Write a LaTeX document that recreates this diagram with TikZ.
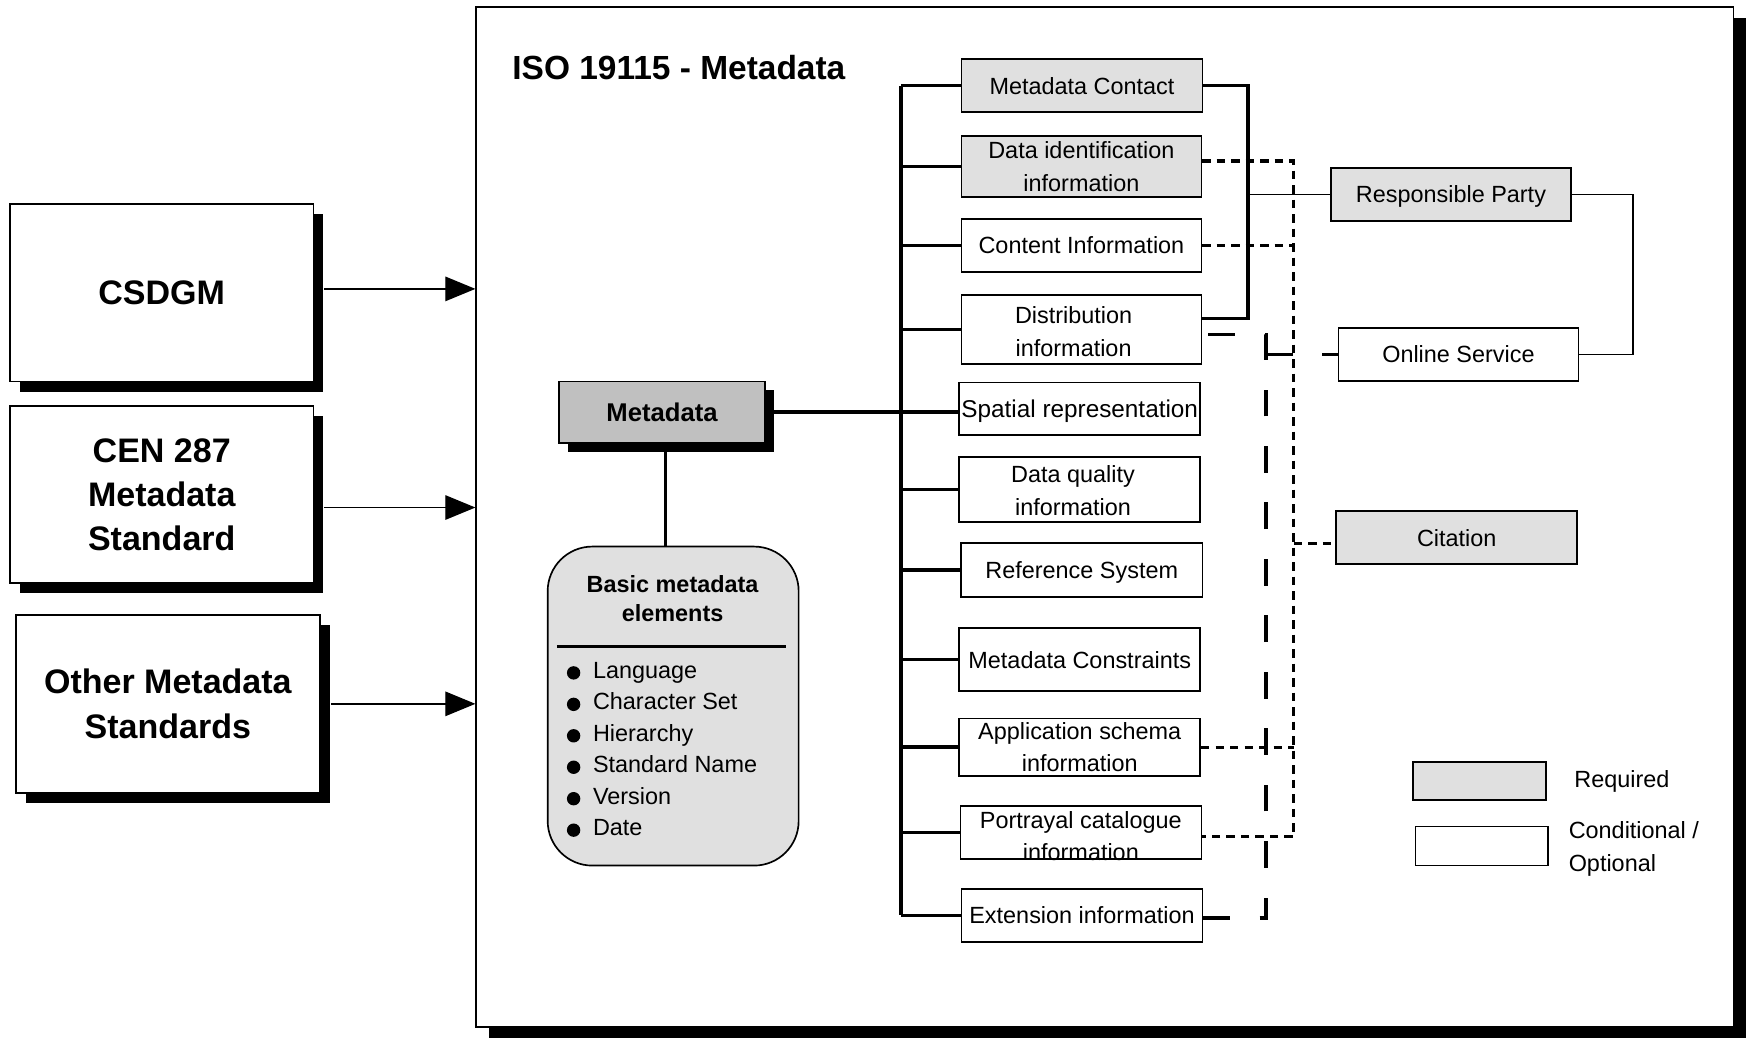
\documentclass[tikz,border=0pt]{standalone}
\usepackage{fontspec}
\setmainfont{Liberation Sans}
\usetikzlibrary{arrows.meta,shadows,calc}
\definecolor{lgray}{HTML}{E0E0E0}
\definecolor{mgray}{HTML}{C0C0C0}
\begin{document}
\begin{tikzpicture}[x=0.5pt,y=-0.5pt,
  mbox/.style={draw=black,line width=0.75pt,inner sep=0pt,align=center,font=\fontsize{10.5}{14.5}\selectfont},
  req/.style={mbox,fill=lgray},
  opt/.style={mbox,fill=white},
  oneline/.style={text height=7.6pt,text depth=0pt},
  mtext/.style={inner sep=0pt,align=center,font=\fontsize{10.5}{14.5}\selectfont},
  stdbox/.style={draw=black,line width=0.8pt,fill=white,inner sep=0pt,align=center,
     minimum width=136pt,minimum height=79.5pt,font=\fontsize{15.25}{19.75}\selectfont\bfseries,
     drop shadow={shadow xshift=4.5pt,shadow yshift=-4.5pt,fill=black,opacity=1}},
  conn/.style={line width=1.6pt},
  thinconn/.style={line width=0.6pt},
  sdash/.style={line width=1.4pt,dash pattern=on 3.75pt off 2.75pt},
  ldash/.style={line width=1.5pt,dash pattern=on 12pt off 13.3pt},
  arr/.style={line width=0.6pt,-{Triangle[length=13.5pt,width=11pt]}},
]
\useasboundingbox (0,0) rectangle (1568,930.6);

% main frame
\node[draw=black,line width=0.8pt,fill=white,inner sep=0pt,minimum width=563.5pt,minimum height=457.5pt,
  drop shadow={shadow xshift=5.5pt,shadow yshift=-5pt,fill=black,opacity=1}] (iso) at (990.5,463.5) {};
\node[anchor=west,inner sep=0pt,font=\fontsize{15}{18}\selectfont\bfseries] (title) at (459,61) {ISO 19115 - Metadata};

% left standards
\node[stdbox] (csdgm) at (145,262.5) {CSDGM};
\node[stdbox] (cen) at (145,443.5) {CEN 287\\Metadata\\Standard};
\node[stdbox,minimum width=136.5pt,minimum height=80pt] (other) at (150.5,631) {Other Metadata\\Standards};

\draw[arr] ([shift={(9,-3.5)}]csdgm.east) coordinate (a1) -- (a1 -| iso.west);
\draw[arr] ([shift={(9,11.5)}]cen.east) coordinate (a2) -- (a2 -| iso.west);
\draw[arr] ([shift={(9,0)}]other.east) coordinate (a3) -- (a3 -| iso.west);

% Metadata node and basic elements
\node[draw=black,line width=0.75pt,fill=mgray,minimum width=92.5pt,minimum height=27.5pt,inner sep=0pt,
  font=\fontsize{11.5}{14}\selectfont\bfseries,
  drop shadow={shadow xshift=4pt,shadow yshift=-4pt,fill=black,opacity=1}] (meta) at (593.5,369.5) {Metadata};

\node[draw=black,line width=0.75pt,fill=lgray,rounded corners=20pt,minimum width=112.5pt,minimum height=143pt,inner sep=0pt] (basic) at (603.5,633) {};
\node[inner sep=0pt,align=center,font=\fontsize{10.5}{13}\selectfont\bfseries] (btitle) at (603,537) {Basic metadata\\elements};
\draw[line width=1.3pt] ($(basic.north west)+(9,90)$) -- ($(basic.north east)+(-12,90)$);
\foreach \t [count=\i] in {Language,Character Set,Hierarchy,Standard Name,Version,Date}{
  \fill ($(basic.north west)+(24,{114+28.2*(\i-1)})$) circle (3pt);
  \node[anchor=base west,inner sep=0pt,font=\fontsize{10.5}{13}\selectfont] at ($(basic.north west)+(41,{119+28.2*(\i-1)})$) {\t};
}

% middle column
\node[req,oneline,minimum width=108pt,minimum height=23.7pt] (mc) at (970,76.7) {Metadata Contact};
\node[req,minimum width=107.5pt,minimum height=27.3pt] (di) at (969.5,149.3) {Data identification\\information};
\node[opt,oneline,minimum width=107.5pt,minimum height=23.65pt] (ci) at (969.5,220) {Content Information};
\node[opt,minimum width=107.5pt,minimum height=30.9pt] (dist) at (969.5,295.4) {};
\node[mtext] (disttext) at ([xshift=-3.5pt,yshift=-1pt]dist.center) {Distribution\\information};
\node[opt,oneline,minimum width=108pt,minimum height=23.5pt,font=\fontsize{10.9}{14.5}\selectfont] (sp) at (968,366.5) {Spatial representation};
\node[opt,minimum width=108pt,minimum height=29.25pt] (dq) at (968,438.8) {};
\node[mtext] (dqtext) at ([xshift=-3pt,yshift=-0.5pt]dq.center) {Data quality\\information};
\node[opt,oneline,minimum width=108.2pt,minimum height=24pt] (rs) at (969.8,511) {Reference System};
\node[opt,oneline,minimum width=108pt,minimum height=28.3pt] (mcon) at (968,591.3) {Metadata Constraints};
\node[opt,minimum width=108pt,minimum height=25.85pt] (app) at (968,669.9) {Application schema\\information};
\node[opt,minimum width=108pt,minimum height=23.7pt] (port) at (969,746.3) {};
\node[mtext] (porttext) at ([yshift=-1.5pt]port.center) {Portrayal catalogue\\information};
\node[opt,oneline,minimum width=108pt,minimum height=23.75pt] (ext) at (970,820.7) {Extension information};

% bus
\coordinate (bus) at (808,0);
\draw[conn] (mc.west -| bus) -- (ext.west -| bus);
\foreach \n in {mc,di,ci,dist,dq,rs,mcon,app,port,ext}{
  \draw[conn] (\n.west) -- (\n.west -| bus);
}
\draw[conn] (meta.east) -- (meta.east -| sp.west);
\draw[conn] ([xshift=1.5pt]meta.south) -- ([xshift=1.5pt]meta.south |- basic.north);

% right side nodes
\node[req,oneline,minimum width=107.75pt,minimum height=23.75pt] (rp) at (1300.8,174.3) {Responsible Party};
\node[opt,oneline,minimum width=107.5pt,minimum height=23.8pt] (os) at (1307.5,317.8) {Online Service};
\node[req,oneline,minimum width=108pt,minimum height=23.9pt] (cit) at (1306,482) {Citation};

% solid bracket
\coordinate (brk) at (1119,0);
\coordinate (dist3) at ([yshift=5pt]dist.east);
\draw[conn] (mc.east) -- (mc.east -| brk) -- (brk |- dist3) -- (dist3);
\draw[thinconn] (rp.west) -- (rp.west -| brk);
\coordinate (rpo) at (1464,0);
\draw[thinconn] (rp.east) -- (rp.east -| rpo) -- (rpo |- os.east) -- (os.east);

% long dashed line
\coordinate (ld) at (1135,0);
\coordinate (dist4) at ([yshift=-2.3pt]dist.east);
\coordinate (ext2) at ([yshift=-1.15pt]ext.east);
\draw[ldash] (ext2) -- (ext2 -| ld) -- (ld |- dist4) -- (dist4);
\draw[ldash] (os.west -| ld) -- (os.west);

% short dashed line
\coordinate (dv) at (1160,0);
\coordinate (di2) at ([yshift=2.5pt]di.east);
\coordinate (port2) at ([yshift=-1.85pt]port.east);
\coordinate (cit2) at ([yshift=-2.5pt]cit.west);
\draw[sdash] (di2) -- (di2 -| dv) -- (dv |- port2) -- (port2);
\draw[sdash] (ci.east) -- (ci.east -| dv);
\draw[sdash] (app.east) -- (app.east -| dv);
\draw[sdash] (cit2 -| dv) -- (cit2);

% legend
\node[req,minimum width=59.5pt,minimum height=17pt] (lreq) at (1326.5,700) {};
\node[opt,minimum width=59.5pt,minimum height=17.5pt] (lopt) at (1328.5,758.5) {};
\node[mtext,oneline,anchor=west] (lreqt) at (1411,698) {Required};
\node[mtext,anchor=west,align=left] (loptt) at (1406,761) {Conditional /\\Optional};
\end{tikzpicture}
\end{document}
